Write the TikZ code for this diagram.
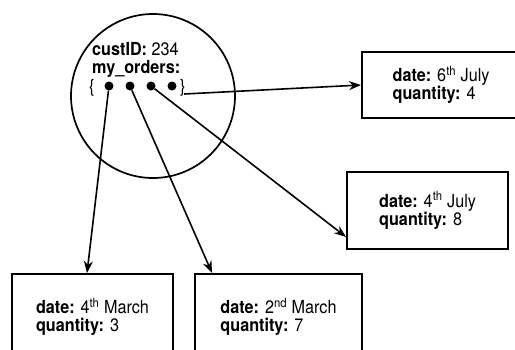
\documentclass[tikz,border=0pt]{standalone}
\usepackage{fontspec}
\setmainfont{TeX Gyre Heros}[FakeStretch=0.9]
\usetikzlibrary{arrows.meta}
\tikzset{
  txt/.style={font=\fontsize{18}{18}\selectfont, inner sep=0pt},
  orderbox/.style={draw, line width=1.9pt, align=left, inner sep=0pt,
    font=\fontsize{18}{18}\selectfont},
  dotnode/.style={circle, fill=black, inner sep=0pt, minimum size=9pt},
  conn/.style={line width=1.6pt, -{Stealth[length=12pt,width=9pt]}},
}
\begin{document}
\begin{tikzpicture}[x=1pt,y=-1pt]
\useasboundingbox (0,0) rectangle (515,349);
% document circle
\node[draw, circle, line width=1.7pt, minimum size=164pt, inner sep=0pt] (doc) at (153,96) {};
\node[txt, anchor=base west, align=left] (t1) at (92,55) {\textbf{custID:} 234};
\node[txt, anchor=base west] (t2) at (92,73) {\textbf{my\_orders:}};
\node[txt, anchor=base west] (lb) at (89,92) {\{};
\node[txt, anchor=base west] (rb) at (180,92) {\}};
\node[dotnode] (d1) at (109,86) {};
\node[dotnode] (d2) at (130,86) {};
\node[dotnode] (d3) at (151,86) {};
\node[dotnode] (d4) at (172,86) {};
\coordinate (rbend) at (184,94);
% order boxes
\node[orderbox, minimum width=158pt, minimum height=66pt] (b1) at (441,85)
  {\textbf{date:} 6\textsuperscript{th} July\\\textbf{quantity:} 4};
\node[orderbox, minimum width=161pt, minimum height=77pt] (b2) at (427.5,210.5)
  {\textbf{date:} 4\textsuperscript{th} July\\\textbf{quantity:} 8};
\node[orderbox, minimum width=161pt, minimum height=86pt] (b3) at (92.5,317)
  {\textbf{date:} 4\textsuperscript{th} March\\\textbf{quantity:} 3};
\node[orderbox, minimum width=167pt, minimum height=86pt] (b4) at (278.5,317)
  {\textbf{date:} 2\textsuperscript{nd} March\\\textbf{quantity:} 7};
% connectors
\draw[conn] (rbend) -- (b1.west);
\draw[conn] (d3) -- ([yshift=13pt]b2.south west);
\draw[conn] (d1) -- ([xshift=-5.5pt]b3.north);
\draw[conn] (d2) -- ([xshift=18pt]b4.north west);
\end{tikzpicture}
\end{document}
